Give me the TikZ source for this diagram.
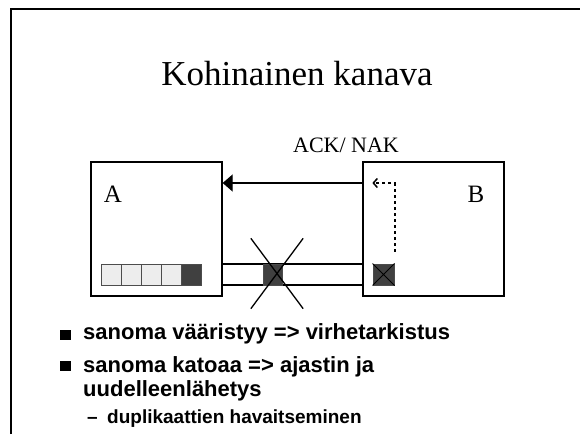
\documentclass[tikz,border=0pt]{standalone}
\usepackage{fontspec}
\setmainfont{Liberation Serif}
\newfontfamily\bulletfont{Liberation Sans}
\usepackage{tikz}
\usetikzlibrary{arrows.meta,shapes.misc}

\begin{document}
\begin{tikzpicture}[x=1pt, y=-1pt,
  station/.style={draw, line width=1.3pt, minimum width=#1, minimum height=134pt, inner sep=0},
  cell/.style={draw=black!70, line width=1pt, minimum width=20pt, minimum height=21pt, inner sep=0},
  bul/.style={fill, minimum width=11pt, minimum height=10pt, inner sep=0},
  txt/.style={anchor=base west, inner sep=0, font=\bulletfont\bfseries\fontsize{22}{22}\selectfont},
  subtxt/.style={anchor=base west, inner sep=0, font=\bulletfont\bfseries\fontsize{19}{19}\selectfont}]
\useasboundingbox (0,0) rectangle (580,434);
\draw[line width=2pt] (11,434) -- (11,9) -- (580,9);
\node (title) at (297,85) [anchor=base, font=\fontsize{35}{35}\selectfont]{Kohinainen kanava};
% the two stations
\node[station=131pt] (A) at (156.5,229) {};
\node[station=141pt] (B) at (433.5,229) {};
\node (labelA) at (113,202) [anchor=base, font=\fontsize{25}{25}\selectfont]{A};
\node (labelB) at (476,202) [anchor=base, font=\fontsize{25}{25}\selectfont]{B};
\node (ack) at (346,152) [anchor=base, font=\fontsize{22}{22}\selectfont]{ACK/ NAK};
\draw[line width=1.3pt, -{Triangle[length=10pt, width=17pt]}] ([yshift=46pt]B.west) -- ([yshift=46pt]A.east);
% channel
\draw[line width=1.3pt] ([yshift=-35pt]A.east) -- ([yshift=-35pt]B.west);
\draw[line width=1.3pt] ([yshift=-56pt]A.east) -- ([yshift=-56pt]B.west);
\foreach \i in {0,...,3}
  \node[cell, fill=black!7] (buf\i) at (111+20*\i,274.5) {};
\node[cell, fill=black!75] (buf4) at (191,274.5) {};
\node[cell, fill=black!75, minimum width=19pt] (pkt) at (272.5,274.5) {};
\node[cross out, draw, line width=1.3pt, minimum width=51pt, minimum height=69pt, inner sep=0] (lost) at (277,273.5) {};
\node[cell, fill=black!75, minimum width=21pt] (recv) at (383.5,274.5) {};
\draw[line width=1pt] (recv.north west) -- (recv.south east) (recv.north east) -- (recv.south west);
\draw[line width=2pt, dash pattern=on 3pt off 3pt, -{Straight Barb[length=4pt, width=9pt, line width=1.5pt]}]
  ([yshift=12pt]recv.north east) |- ([xshift=10pt, yshift=46pt]B.west);
% bullets
\node[bul] (b1) at (65.5,335) {};
\node[txt] (t1) at (83,339) {sanoma vääristyy => virhetarkistus};
\node[bul] (b2) at (65.5,366) {};
\node[txt] (t2) at (83,372) {sanoma katoaa => ajastin ja};
\node[txt] (t3) at (83,396) {uudelleenlähetys};
\node[subtxt] (d4) at (87,423) {–};
\node[subtxt] (t4) at (107,423) {duplikaattien havaitseminen};
\end{tikzpicture}
\end{document}
